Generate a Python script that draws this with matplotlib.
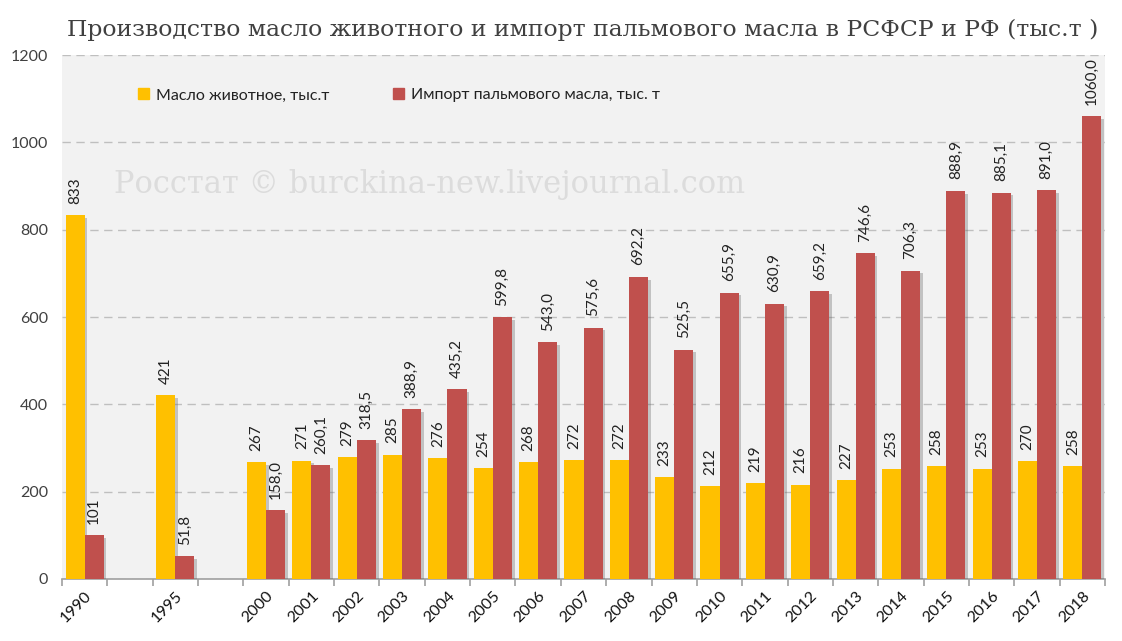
import numpy as np
import matplotlib
matplotlib.use('Agg')
import matplotlib.pyplot as plt
import matplotlib.patheffects as pe
from matplotlib.patches import Patch
from matplotlib import transforms

# data
years = ['1990', '', '1995', '', '2000', '2001', '2002', '2003', '2004', '2005', '2006',
         '2007', '2008', '2009', '2010', '2011', '2012', '2013', '2014', '2015', '2016',
         '2017', '2018']
butter = [833, None, 421, None, 267, 271, 279, 285, 276, 254, 268, 272, 272, 233, 212,
          219, 216, 227, 253, 258, 253, 270, 258]
palm = [101, None, 51.8, None, 158.0, 260.1, 318.5, 388.9, 435.2, 599.8, 543.0, 575.6,
        692.2, 525.5, 655.9, 630.9, 659.2, 746.6, 706.3, 888.9, 885.1, 891.0, 1060.0]
palm_labels = ['101', '', '51,8', '', '158,0', '260,1', '318,5', '388,9', '435,2', '599,8',
               '543,0', '575,6', '692,2', '525,5', '655,9', '630,9', '659,2', '746,6',
               '706,3', '888,9', '885,1', '891,0', '1060,0']

title = 'Производство масло животного и импорт пальмового масла в РСФСР и РФ (тыс.т )'
name_butter = 'Масло животное, тыс.т'
name_palm = 'Импорт пальмового масла, тыс. т'
watermark = 'Росстат © burckina-new.livejournal.com'

YELLOW = '#FFC000'
RED = '#C0504D'
TXT = '#404040'

plt.rcParams['font.family'] = ['Lato', 'DejaVu Sans']

fig = plt.figure(figsize=(11.22, 6.41), dpi=100)
ax = fig.add_axes([62 / 1122, 62 / 641, (1105 - 62) / 1122, (579 - 55) / 641])
ax.set_facecolor('#f2f2f2')

x = np.arange(len(years))
w = 0.42
shadow = [pe.SimplePatchShadow(offset=(2, -2), alpha=0.3, shadow_rgbFace='#555555'), pe.Normal()]

for i in range(len(years)):
    if butter[i] is None:
        continue
    b1 = ax.bar(x[i] - w / 2, butter[i], w, color=YELLOW, zorder=3)
    b2 = ax.bar(x[i] + w / 2, palm[i], w, color=RED, zorder=3)
    for b in list(b1) + list(b2):
        b.set_path_effects(shadow)
    ax.text(x[i] - w / 2, butter[i] + 26, str(butter[i]), rotation=90, ha='center',
            va='bottom', fontsize=11, color='#222222', zorder=4)
    ax.text(x[i] + w / 2, palm[i] + 26, palm_labels[i], rotation=90, ha='center',
            va='bottom', fontsize=11, color='#222222', zorder=4)

ax.set_xlim(-0.5, len(years) - 0.5)
ax.set_ylim(0, 1200)
ax.set_yticks(range(0, 1201, 200))
ax.yaxis.grid(True, linestyle=(0, (6, 4)), color='#bfbfbf', linewidth=1, zorder=0)
ax.tick_params(axis='y', length=0, labelsize=11.5, labelcolor=TXT, pad=10)

ax.set_xticks(x)
ax.set_xticklabels(years, rotation=45, ha='right', rotation_mode='anchor', fontsize=11.5,
                   color='#111111')
offset = transforms.ScaledTranslation(14 / 100, 0, fig.dpi_scale_trans)
for lab in ax.get_xticklabels():
    lab.set_transform(lab.get_transform() + offset)
ax.tick_params(axis='x', which='major', length=0, pad=7)
ax.set_xticks(np.arange(-0.5, len(years)), minor=True)
ax.tick_params(axis='x', which='minor', length=5, color='#a0a0a0', width=1.2)

for s in ['top', 'right', 'left']:
    ax.spines[s].set_visible(False)
ax.spines['bottom'].set_color('#a0a0a0')
ax.spines['bottom'].set_linewidth(1.2)

ax.text(0.05, 0.753, watermark, transform=ax.transAxes, fontsize=22, color='#dcdcdc',
        family='DejaVu Serif', va='center', ha='left', zorder=1)

fig.text(67 / 1122, 1 - 30 / 641, title, fontsize=16.9, family='DejaVu Serif',
         color='#404040', va='center', ha='left')

handles = [Patch(color=YELLOW, label=name_butter), Patch(color=RED, label=name_palm)]
leg = ax.legend(handles=handles, loc='center', bbox_to_anchor=(0.323, 0.923), ncol=2,
                frameon=False, fontsize=11.5, handlelength=0.7, handleheight=0.7,
                handletextpad=0.4, columnspacing=4.0)
for t in leg.get_texts():
    t.set_color('#222222')

fig.savefig('out.png', dpi=100)
